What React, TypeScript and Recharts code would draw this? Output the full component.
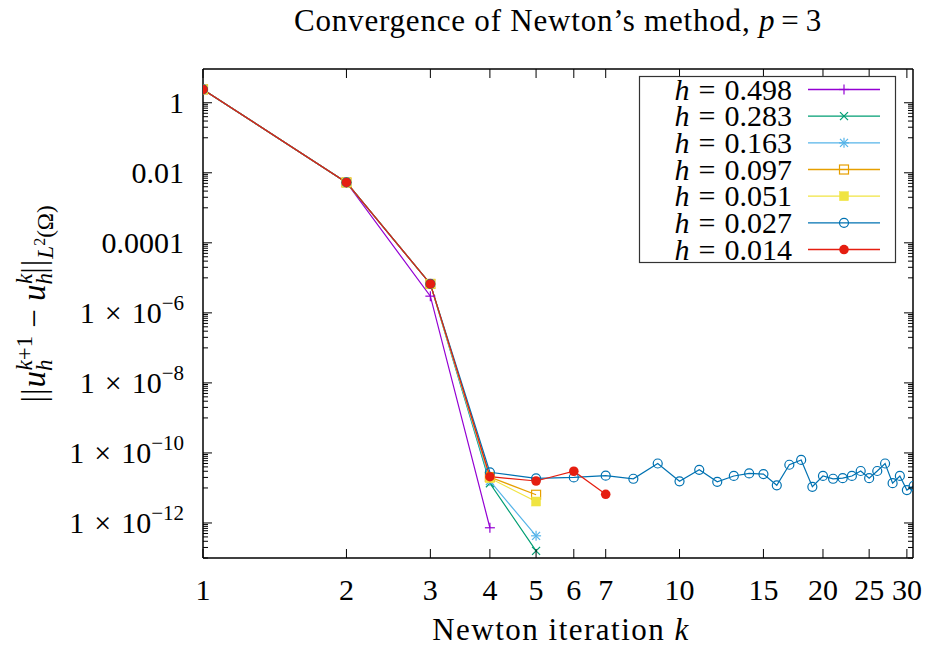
import React from 'react';
import { LineChart, Line, XAxis, YAxis, Legend } from 'recharts';

const FONT = '"Liberation Serif", "Times New Roman", serif';

// Newton iteration numbers
const iterations = [1, 2, 3, 4, 5, 6, 7, 8, 9, 10, 11, 12, 13, 14, 15, 16, 17, 18, 19, 20, 21, 22, 23, 24, 25, 26, 27, 28, 29, 30, 31];

// ||u_h^{k+1} - u_h^k|| for each mesh size
const h0498 = [2.4, 5.3e-3, 3.0e-6, 7.3e-13];
const h0283 = [2.4, 5.3e-3, 6.7e-6, 1.36e-11, 1.6e-13];
const h0163 = [2.4, 5.3e-3, 6.7e-6, 1.58e-11, 4.3e-13];
const h0097 = [2.4, 5.3e-3, 6.7e-6, 2.05e-11, 6.4e-12];
const h0051 = [2.4, 5.3e-3, 6.7e-6, 1.9e-11, 4.1e-12];
const h0027 = [2.4, 5.3e-3, 6.7e-6, 2.8e-11, 1.88e-11, 2.0e-11, 2.24e-11, 1.83e-11, 5.0e-11, 1.55e-11, 3.3e-11, 1.5e-11, 2.2e-11, 2.6e-11, 2.5e-11, 1.19e-11, 4.6e-11, 6.3e-11, 1.08e-11, 2.2e-11, 1.83e-11, 1.9e-11, 2.2e-11, 3.05e-11, 1.9e-11, 3.05e-11, 5.0e-11, 1.37e-11, 2.2e-11, 8.7e-12, 1.15e-11];
const h0014 = [2.4, 5.3e-3, 6.7e-6, 2.1e-11, 1.58e-11, 3.0e-11, 6.6e-12];

const seriesLabels = ['0.498', '0.283', '0.163', '0.097', '0.051', '0.027', '0.014'];
const seriesValues = [h0498, h0283, h0163, h0097, h0051, h0027, h0014];
const seriesColors = ['#9400d3', '#009e73', '#56b4e9', '#e69f00', '#f0e442', '#0072b2', '#e51e10'];
const seriesMarkers = ['plus', 'cross', 'star', 'openSquare', 'filledSquare', 'openCircle', 'filledCircle'];

const xTicks = [1, 2, 3, 4, 5, 6, 7, 10, 15, 20, 25, 30];
const xTickLabels = ['1', '2', '3', '4', '5', '6', '7', '10', '15', '20', '25', '30'];

const yMajorTicks = [1, 1e-2, 1e-4, 1e-6, 1e-8, 1e-10, 1e-12];
const yMajorBase = ['1', '0.01', '0.0001', '1', '1', '1', '1'];
const yMajorExp = ['', '', '', '−6', '−8', '−10', '−12'];
const yMinorMultipliers = [1, 2, 3, 4, 5, 6, 7, 8, 9];

const X_DOMAIN: [number, number] = [1, 30.9];
const Y_DOMAIN: [number, number] = [1e-13, 9.2];

const yMinorTicks: number[] = [];
yMajorTicks.forEach((m) => {
  yMinorMultipliers.forEach((j) => {
    const v = (j * m) / 10;
    if (v >= Y_DOMAIN[0] * 0.999 && v <= Y_DOMAIN[1]) yMinorTicks.push(v);
  });
});
const yAllTicks = [...yMajorTicks, ...yMinorTicks];

const data = iterations.map((k, i) => {
  const row: Record<string, number | undefined> = { k };
  seriesValues.forEach((arr, s) => {
    row['s' + s] = i < arr.length ? arr[i] : undefined;
  });
  return row;
});

function Marker({ cx, cy, type, color }: { cx: number; cy: number; type: string; color: string }) {
  const sw = 1.2;
  switch (type) {
    case 'plus':
      return (
        <g stroke={color} strokeWidth={sw}>
          <line x1={cx - 5} y1={cy} x2={cx + 5} y2={cy} />
          <line x1={cx} y1={cy - 5} x2={cx} y2={cy + 5} />
        </g>
      );
    case 'cross':
      return (
        <g stroke={color} strokeWidth={sw}>
          <line x1={cx - 4} y1={cy - 4} x2={cx + 4} y2={cy + 4} />
          <line x1={cx - 4} y1={cy + 4} x2={cx + 4} y2={cy - 4} />
        </g>
      );
    case 'star':
      return (
        <g stroke={color} strokeWidth={sw}>
          <line x1={cx - 5} y1={cy} x2={cx + 5} y2={cy} />
          <line x1={cx} y1={cy - 5} x2={cx} y2={cy + 5} />
          <line x1={cx - 4} y1={cy - 4} x2={cx + 4} y2={cy + 4} />
          <line x1={cx - 4} y1={cy + 4} x2={cx + 4} y2={cy - 4} />
        </g>
      );
    case 'openSquare':
      return <rect x={cx - 4.5} y={cy - 4.5} width={9} height={9} fill="none" stroke={color} strokeWidth={sw} />;
    case 'filledSquare':
      return <rect x={cx - 4.5} y={cy - 4.5} width={9} height={9} fill={color} stroke={color} strokeWidth={0.5} />;
    case 'openCircle':
      return <circle cx={cx} cy={cy} r={4.5} fill="none" stroke={color} strokeWidth={sw} />;
    default:
      return <circle cx={cx} cy={cy} r={4.8} fill={color} stroke="none" />;
  }
}

const isMajorY = (v: number) => yMajorTicks.some((m) => Math.abs(Math.log10(v) - Math.log10(m)) < 1e-6);

function LeftYTick(props: any) {
  const { x, y, payload } = props;
  const v = payload.value;
  const idx = yMajorTicks.findIndex((m) => Math.abs(Math.log10(v) - Math.log10(m)) < 1e-6);
  if (idx < 0) {
    return <line x1={x} y1={y} x2={x + 5} y2={y} stroke="#000" strokeWidth={1} />;
  }
  const exp = yMajorExp[idx];
  return (
    <g>
      <line x1={x} y1={y} x2={x + 9} y2={y} stroke="#000" strokeWidth={1} />
      <text x={x - 19} y={y + 10} textAnchor="end" fontFamily={FONT} fontSize={30} fill="#000">
        {yMajorBase[idx]}
        {exp ? (
          <>
            <tspan dx={10}>×</tspan>
            <tspan dx={10}>10</tspan>
            <tspan fontSize={21} dy={-13}>
              {exp}
            </tspan>
          </>
        ) : null}
      </text>
    </g>
  );
}

function RightYTick(props: any) {
  const { x, y, payload } = props;
  const len = isMajorY(payload.value) ? 9 : 5;
  return <line x1={x} y1={y} x2={x - len} y2={y} stroke="#000" strokeWidth={1} />;
}

function BottomXTick(props: any) {
  const { x, y, payload } = props;
  const idx = xTicks.indexOf(payload.value);
  return (
    <g>
      <line x1={x} y1={y} x2={x} y2={y - 9} stroke="#000" strokeWidth={1} />
      <text x={x} y={y + 42} textAnchor="middle" fontFamily={FONT} fontSize={30} fill="#000">
        {idx >= 0 ? xTickLabels[idx] : ''}
      </text>
    </g>
  );
}

function TopXTick(props: any) {
  const { x, y } = props;
  return <line x1={x} y1={y} x2={x} y2={y + 9} stroke="#000" strokeWidth={1} />;
}

function LegendContent() {
  const rowH = 26.67;
  return (
    <svg width={258} height={188} style={{ display: 'block', overflow: 'visible' }}>
      <rect x={0.5} y={0.5} width={256} height={186} fill="#fff" stroke="#333" strokeWidth={1.2} />
      {seriesLabels.map((lab, i) => {
        const cy = 13.5 + i * rowH;
        return (
          <g key={lab}>
            <text x={153} y={cy + 10} textAnchor="end" fontFamily={FONT} fontSize={30} fill="#000">
              <tspan fontStyle="italic">h</tspan>
              <tspan dx={9}>=</tspan>
              <tspan dx={9}>{lab}</tspan>
            </text>
            <line x1={169} y1={cy} x2={241} y2={cy} stroke={seriesColors[i]} strokeWidth={1.3} />
            <Marker cx={205} cy={cy} type={seriesMarkers[i]} color={seriesColors[i]} />
          </g>
        );
      })}
    </svg>
  );
}

export default function App() {
  return (
    <div style={{ position: 'absolute', left: 0, top: 0, width: 925, height: 647, background: '#fff' }}>
      <LineChart width={925} height={647} data={data} margin={{ top: 68, right: 11, bottom: 29, left: 23 }}>
        <XAxis
          dataKey="k"
          type="number"
          scale="log"
          domain={X_DOMAIN}
          allowDataOverflow
          ticks={xTicks}
          interval={0}
          tick={<BottomXTick />}
          tickSize={0}
          tickMargin={0}
          tickLine={false}
          axisLine={{ stroke: '#000', strokeWidth: 1.5 }}
          height={60}
        />
        <XAxis
          xAxisId="top"
          orientation="top"
          dataKey="k"
          type="number"
          scale="log"
          domain={X_DOMAIN}
          allowDataOverflow
          ticks={xTicks}
          interval={0}
          tick={<TopXTick />}
          tickSize={0}
          tickMargin={0}
          tickLine={false}
          axisLine={{ stroke: '#000', strokeWidth: 1.5 }}
          height={1}
        />
        <YAxis
          type="number"
          scale="log"
          domain={Y_DOMAIN}
          allowDataOverflow
          ticks={yAllTicks}
          interval={0}
          tick={<LeftYTick />}
          tickSize={0}
          tickMargin={0}
          tickLine={false}
          axisLine={{ stroke: '#000', strokeWidth: 1.5 }}
          width={180}
        />
        <YAxis
          yAxisId="right"
          orientation="right"
          type="number"
          scale="log"
          domain={Y_DOMAIN}
          allowDataOverflow
          ticks={yAllTicks}
          interval={0}
          tick={<RightYTick />}
          tickSize={0}
          tickMargin={0}
          tickLine={false}
          axisLine={{ stroke: '#000', strokeWidth: 1.5 }}
          width={1}
        />
        <Legend
          layout="horizontal"
          verticalAlign="middle"
          align="center"
          content={<LegendContent />}
          wrapperStyle={{ position: 'absolute', left: 639, top: 76, width: 258, height: 188, margin: 0, padding: 0 }}
        />
        {seriesLabels.map((lab, i) => (
          <Line
            key={lab}
            dataKey={'s' + i}
            name={'h = ' + lab}
            stroke={seriesColors[i]}
            strokeWidth={1.2}
            isAnimationActive={false}
            connectNulls={false}
            dot={(p: any) =>
              p.cy == null || p.value == null ? (
                <g key={'d' + i + '-' + p.index} />
              ) : (
                <Marker key={'d' + i + '-' + p.index} cx={p.cx} cy={p.cy} type={seriesMarkers[i]} color={seriesColors[i]} />
              )
            }
          />
        ))}
      </LineChart>
      <svg width={925} height={647} style={{ position: 'absolute', left: 0, top: 0, pointerEvents: 'none' }}>
        <text x={558} y={31} textAnchor="middle" fontFamily={FONT} fontSize={31} letterSpacing={0.8} fill="#000">
          Convergence of Newton’s method, <tspan fontStyle="italic">p</tspan>
          <tspan dx={6}>=</tspan>
          <tspan dx={6}>3</tspan>
        </text>
        <text x={561} y={640} textAnchor="middle" fontFamily={FONT} fontSize={31} letterSpacing={1.5} fill="#000">
          Newton iteration <tspan fontStyle="italic">k</tspan>
        </text>
        <text transform="translate(45,304) rotate(-90)" textAnchor="middle" fontFamily={FONT} fontSize={33} fill="#000">
          <tspan letterSpacing={1}>||</tspan>
          <tspan fontStyle="italic">u</tspan>
          <tspan fontStyle="italic" fontSize={23} dy={7}>h</tspan>
          <tspan fontStyle="italic" fontSize={23} dx={-11} dy={-20}>k</tspan>
          <tspan fontSize={23}>+1</tspan>
          <tspan dy={13} dx={8}>−</tspan>
          <tspan fontStyle="italic" dx={8}>u</tspan>
          <tspan fontStyle="italic" fontSize={23} dy={7}>h</tspan>
          <tspan fontStyle="italic" fontSize={23} dx={-11} dy={-20}>k</tspan>
          <tspan dy={13} letterSpacing={1}>||</tspan>
          <tspan fontStyle="italic" fontSize={23} dy={8}>L</tspan>
          <tspan fontSize={16} dy={-8}>2</tspan>
          <tspan fontSize={23} dy={8}>(Ω)</tspan>
        </text>
      </svg>
    </div>
  );
}
